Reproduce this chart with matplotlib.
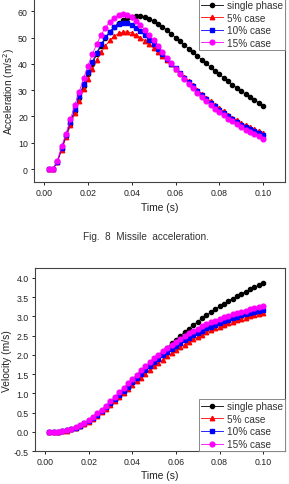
import numpy as np
import matplotlib.pyplot as plt
from matplotlib.ticker import MultipleLocator

plt.rcParams['font.family'] = ['Liberation Sans', 'DejaVu Sans']

# time samples (s)
time = [0.002, 0.004, 0.006, 0.008, 0.010, 0.012, 0.014, 0.016, 0.018, 0.020,
        0.022, 0.024, 0.026, 0.028, 0.030, 0.032, 0.034, 0.036, 0.038, 0.040,
        0.042, 0.044, 0.046, 0.048, 0.050, 0.052, 0.054, 0.056, 0.058, 0.060,
        0.062, 0.064, 0.066, 0.068, 0.070, 0.072, 0.074, 0.076, 0.078, 0.080,
        0.082, 0.084, 0.086, 0.088, 0.090, 0.092, 0.094, 0.096, 0.098, 0.100]

labels = ['single phase', '5% case', '10% case', '15% case']

# acceleration (m/s^2)
acc_single = [0, 0, 2.7, 7.8, 12.5, 17.3, 22.2, 27.0, 31.6, 36.0,
              40.0, 43.7, 46.9, 49.7, 52.0, 54.0, 55.6, 56.7, 57.5, 58.0,
              58.2, 58.1, 57.7, 57.1, 56.3, 55.3, 54.2, 52.9, 51.5, 50.0,
              48.6, 47.2, 45.8, 44.4, 43.0, 41.6, 40.2, 38.8, 37.4, 36.0,
              34.7, 33.4, 32.1, 30.9, 29.7, 28.5, 27.4, 26.3, 25.2, 24.1]
acc_5 = [0, 0, 2.5, 7.3, 12.0, 16.6, 21.3, 25.8, 30.3, 34.3,
         38.0, 41.4, 44.4, 46.9, 48.9, 50.5, 51.6, 52.1, 52.2, 51.8,
         51.0, 50.0, 48.8, 47.4, 46.0, 44.5, 43.0, 41.4, 39.8, 38.2,
         36.6, 35.0, 33.4, 31.8, 30.2, 28.7, 27.2, 25.8, 24.4, 23.1,
         21.9, 20.7, 19.6, 18.6, 17.6, 16.7, 15.9, 15.1, 14.3, 13.6]
acc_10 = [0, 0, 2.8, 8.0, 12.8, 17.8, 22.8, 27.6, 32.4, 36.8,
          40.8, 44.3, 47.5, 50.2, 52.3, 53.9, 55.0, 55.5, 55.4, 54.8,
          53.7, 52.4, 50.9, 49.2, 47.4, 45.6, 43.8, 42.0, 40.1, 38.3,
          36.5, 34.8, 33.1, 31.4, 29.8, 28.2, 26.7, 25.2, 23.8, 22.5,
          21.2, 20.0, 18.9, 17.9, 16.9, 16.0, 15.2, 14.4, 13.6, 12.9]
acc_15 = [0, 0, 3.2, 8.6, 13.5, 18.9, 24.3, 29.4, 34.5, 39.3,
          43.7, 47.5, 51.0, 53.8, 56.0, 57.6, 58.5, 58.9, 58.6, 57.8,
          56.5, 54.9, 53.0, 51.0, 48.9, 46.8, 44.6, 42.4, 40.3, 38.2,
          36.2, 34.3, 32.5, 30.7, 29.0, 27.4, 25.9, 24.4, 23.0, 21.7,
          20.4, 19.2, 18.1, 17.0, 16.0, 15.0, 14.1, 13.2, 12.4, 11.5]

# velocity (m/s)
vel_single = [0, 0, 0.003, 0.013, 0.034, 0.063, 0.103, 0.152, 0.211, 0.278,
              0.354, 0.438, 0.529, 0.625, 0.727, 0.833, 0.942, 1.055, 1.169, 1.284,
              1.401, 1.517, 1.633, 1.748, 1.861, 1.973, 2.082, 2.189, 2.294, 2.395,
              2.494, 2.589, 2.682, 2.773, 2.860, 2.945, 3.026, 3.105, 3.182, 3.255,
              3.326, 3.394, 3.459, 3.522, 3.583, 3.641, 3.697, 3.751, 3.802, 3.852]
vel_5 = [0, 0, 0.003, 0.012, 0.032, 0.060, 0.098, 0.145, 0.201, 0.266,
         0.338, 0.418, 0.503, 0.595, 0.691, 0.790, 0.892, 0.996, 1.100, 1.204,
         1.307, 1.408, 1.507, 1.603, 1.696, 1.787, 1.874, 1.959, 2.040, 2.118,
         2.193, 2.265, 2.334, 2.400, 2.463, 2.523, 2.580, 2.634, 2.685, 2.733,
         2.778, 2.821, 2.861, 2.899, 2.934, 2.967, 2.998, 3.027, 3.054, 3.080]
vel_10 = [0, 0, 0.003, 0.014, 0.034, 0.065, 0.106, 0.156, 0.216, 0.285,
          0.363, 0.448, 0.540, 0.637, 0.740, 0.846, 0.955, 1.066, 1.176, 1.287,
          1.395, 1.501, 1.605, 1.705, 1.801, 1.894, 1.984, 2.069, 2.152, 2.230,
          2.305, 2.376, 2.444, 2.508, 2.570, 2.628, 2.683, 2.734, 2.783, 2.830,
          2.873, 2.915, 2.954, 2.990, 3.025, 3.058, 3.089, 3.119, 3.147, 3.173]
vel_15 = [0, 0, 0.003, 0.015, 0.037, 0.070, 0.113, 0.166, 0.230, 0.304,
          0.387, 0.478, 0.577, 0.682, 0.791, 0.905, 1.021, 1.139, 1.256, 1.372,
          1.487, 1.598, 1.706, 1.810, 1.910, 2.006, 2.097, 2.184, 2.267, 2.345,
          2.420, 2.490, 2.557, 2.620, 2.680, 2.736, 2.790, 2.840, 2.887, 2.932,
          2.974, 3.014, 3.051, 3.086, 3.119, 3.150, 3.179, 3.206, 3.232, 3.256]

styles = [dict(color='black', marker='o', ms=3.0),
          dict(color='red', marker='^', ms=3.2),
          dict(color='blue', marker='s', ms=2.8),
          dict(color='#ff00ff', marker='o', ms=3.4)]

fig = plt.figure(figsize=(2.89, 4.85), dpi=100)
ax1 = fig.add_axes([0.118, 0.6223, 0.868, 0.3794])
ax2 = fig.add_axes([0.121, 0.068, 0.865, 0.377])


def style_axes(ax):
    for sp in ax.spines.values():
        sp.set_color('#444444')
        sp.set_linewidth(0.8)
    ax.tick_params(direction='out', length=2.5, width=0.7, labelsize=6.3,
                   colors='#222222', pad=2)
    ax.xaxis.set_major_locator(MultipleLocator(0.02))
    ax.xaxis.set_major_formatter(plt.FuncFormatter(lambda v, p: f'{v:.2f}'))
    ax.set_xlim(-0.0046, 0.110)
    ax.set_xlabel('Time (s)', fontsize=7.4, color='#222222', labelpad=3)


def style_legend(leg):
    leg.get_frame().set_linewidth(0.7)
    for t in leg.get_texts():
        t.set_color('#333333')


leg_kw = dict(fontsize=7.2, frameon=True, fancybox=False, edgecolor='#888888',
              framealpha=1, borderpad=0.2, labelspacing=0.26,
              handlelength=2.2, handletextpad=0.4, borderaxespad=0)

# Panel 1: acceleration
for y, lab, st in zip([acc_single, acc_5, acc_10, acc_15], labels, styles):
    ax1.plot(time, y, label=lab, lw=0.6, mec=st['color'], **st)
style_axes(ax1)
ax1.set_ylim(-5, 65)
ax1.yaxis.set_major_locator(MultipleLocator(10))
ax1.set_ylabel('Acceleration (m/s$^2$)', fontsize=7.2, color='#222222', labelpad=1)
leg1 = ax1.legend(loc='upper right', bbox_to_anchor=(1.0, 1.0), **leg_kw)
style_legend(leg1)

fig.text(0.505, 0.511, 'Fig.  8  Missile  acceleration.', ha='center', va='center',
         fontsize=7.2, color='#333333')

# Panel 2: velocity
for y, lab, st in zip([vel_single, vel_5, vel_10, vel_15], labels, styles):
    ax2.plot(time, y, label=lab, lw=0.6, mec=st['color'], **st)
style_axes(ax2)
ax2.set_ylim(-0.5, 4.25)
ax2.yaxis.set_major_locator(MultipleLocator(0.5))
ax2.yaxis.set_major_formatter(plt.FuncFormatter(lambda v, p: f'{v:.1f}'))
ax2.set_ylabel('Velocity (m/s)', fontsize=7.4, color='#222222', labelpad=1.5)
leg2 = ax2.legend(loc='lower right', bbox_to_anchor=(1.0, 0.0), **leg_kw)
style_legend(leg2)

fig.savefig('out.png', dpi=100)
